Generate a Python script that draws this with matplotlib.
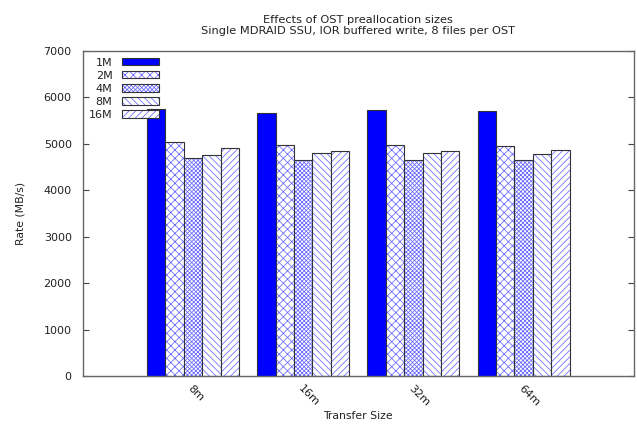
import numpy as np
import matplotlib
matplotlib.use("Agg")
import matplotlib.pyplot as plt

# valeurs (MB/s)
tailles = ["8m", "16m", "32m", "64m"]
series = ["1M", "2M", "4M", "8M", "16M"]
r_1M = [5745, 5665, 5730, 5700]
r_2M = [5035, 4985, 4965, 4950]
r_4M = [4700, 4655, 4655, 4655]
r_8M = [4765, 4805, 4795, 4785]
r_16M = [4905, 4855, 4845, 4870]
valeurs = [r_1M, r_2M, r_4M, r_8M, r_16M]

hachures = [None, "xxxx", "xxxxxxxx", "\\\\\\\\\\", "/////"]

plt.rcParams["font.family"] = "DejaVu Sans"
plt.rcParams["font.size"] = 8
plt.rcParams["hatch.color"] = (0.0, 0.0, 1.0, 0.6)
plt.rcParams["hatch.linewidth"] = 0.55

fig = plt.figure(figsize=(6.37, 4.24), dpi=100)
ax = fig.add_axes([0.130, 0.1132, 0.865, 0.7665])

x = np.arange(len(tailles))
largeur = 1.0 / 6
handles = []
for i, (nom, vals, h) in enumerate(zip(series, valeurs, hachures)):
    pos = x - 2.5 * largeur + (i + 0.5) * largeur
    if h is None:
        b = ax.bar(pos, vals, largeur, color="#0000ff", edgecolor="#333333", linewidth=0.8)
        handles.append(b[0])
    else:
        b1 = ax.bar(pos, vals, largeur, color="white", hatch=h, edgecolor=None, linewidth=0)
        b2 = ax.bar(pos, vals, largeur, fill=False, edgecolor="#333333", linewidth=0.8)
        handles.append((b1[0], b2[0]))

ax.set_xlim(-1, 4)
ax.set_ylim(0, 7000)
ax.set_yticks(np.arange(0, 7001, 1000))
ax.set_xticks(x)
ax.set_xticklabels(tailles, rotation=-45, ha="left", va="top", rotation_mode="anchor")
ax.tick_params(axis="x", length=0, pad=5, colors="#222222")
ax.tick_params(axis="y", direction="in", length=4, width=0.8, right=True,
               color="#444444", labelcolor="#222222", pad=8)
for s in ax.spines.values():
    s.set_color("#666666")
    s.set_linewidth(1.0)

ax.set_xlabel("Transfer Size", color="#222222", fontsize=7.8)
ax.xaxis.set_label_coords(0.5, -0.107)
ax.set_ylabel("Rate (MB/s)", color="#222222", fontsize=7.8, labelpad=13)
ax.set_title("Effects of OST preallocation sizes\nSingle MDRAID SSU, IOR buffered write, 8 files per OST",
             color="#222222", fontsize=8.2, pad=12, linespacing=1.15)

ax.legend(handles, series, loc="upper left", bbox_to_anchor=(0.011, 0.98),
          frameon=False, markerfirst=False, borderpad=0, borderaxespad=0,
          handlelength=3.3, handleheight=0.65, handletextpad=0.9, labelspacing=0.28,
          labelcolor="#222222")

fig.savefig("out.png", dpi=100)
